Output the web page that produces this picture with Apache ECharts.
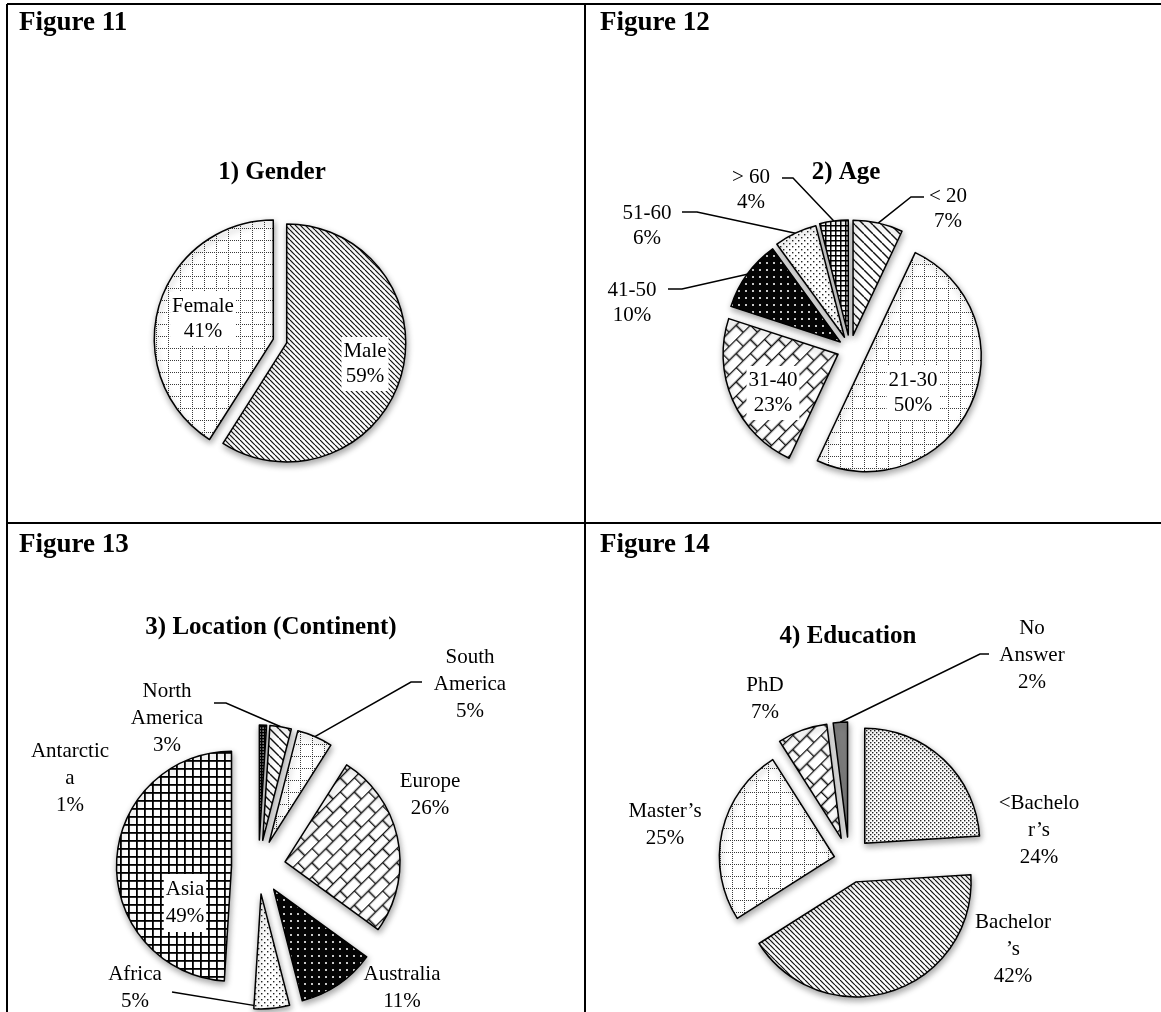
<!DOCTYPE html>
<html>
<head>
<meta charset="utf-8">
<script src="https://cdn.jsdelivr.net/npm/echarts@6/dist/echarts.min.js"></script>
<style>
  html, body { margin: 0; padding: 0; background: #fff; }
  #chart { width: 1161px; height: 1012px; }
</style>
</head>
<body>
<div id="chart"></div>
<script>
// ---- data ----
const figureLabels = ['Figure 11', 'Figure 12', 'Figure 13', 'Figure 14'];
const chartTitles = ['1) Gender', '2) Age', '3) Location (Continent)', '4) Education'];

const genderNames = ['Male', 'Female'];
const genderValues = [59, 41];

const ageNames = ['< 20', '21-30', '31-40', '41-50', '51-60', '> 60'];
const ageValues = [7, 50, 23, 10, 6, 4];

const locationNames = ['Antarctica', 'North America', 'South America', 'Europe', 'Australia', 'Africa', 'Asia'];
const locationValues = [1, 3, 5, 26, 11, 5, 49];
// names as they wrap in the printed labels
const locationLabelText = ['Antarctic\na', 'North\nAmerica', 'South\nAmerica', 'Europe', 'Australia', 'Africa', 'Asia'];

const educationNames = ['<Bachelor’s', 'Bachelor’s', 'Master’s', 'PhD', 'No Answer'];
const educationValues = [24, 42, 25, 7, 2];
const educationLabelText = ['<Bachelo\nr’s', 'Bachelor\n’s', 'Master’s', 'PhD', 'No\nAnswer'];

// ---- fill patterns (black & white print style) ----
function tile(w, h, bg, draw) {
  const c = document.createElement('canvas');
  c.width = w; c.height = h;
  const g = c.getContext('2d');
  g.fillStyle = bg; g.fillRect(0, 0, w, h);
  draw(g, w, h);
  return c;
}
function pat(canvas, rotation) {
  return { image: canvas, repeat: 'repeat', rotation: rotation || 0 };
}
function hatch(step, lw) {
  return pat(tile(step, step, '#fff', (g, w) => {
    g.strokeStyle = '#111'; g.lineWidth = lw;
    for (let k = -1; k <= 1; k++) {
      g.beginPath(); g.moveTo(k * w, 0); g.lineTo(k * w + w, w); g.stroke();
    }
  }));
}
function dottedGrid(step) {
  return pat(tile(step, step, '#fff', (g, w) => {
    g.fillStyle = '#3a3a3a';
    for (let x = 0; x < w; x += 2) g.fillRect(x, 0, 1, 1);
    for (let y = 0; y < w; y += 2) g.fillRect(0, y, 1, 1);
  }));
}
function brick(h) {
  const w = 2 * h;
  return pat(tile(w, w, '#fff', (g) => {
    g.strokeStyle = '#111'; g.lineWidth = 1.6;
    g.beginPath();
    g.moveTo(0, 0.5); g.lineTo(w, 0.5);
    g.moveTo(0, h + 0.5); g.lineTo(w, h + 0.5);
    g.moveTo(0.5, 0); g.lineTo(0.5, h + 0.5);
    g.moveTo(h + 0.5, h + 0.5); g.lineTo(h + 0.5, w);
    g.stroke();
  }), -Math.PI / 4);
}
function darkDots() {
  return pat(tile(7, 7, '#050505', (g) => {
    g.fillStyle = '#c8c8c8'; g.fillRect(3, 3, 2, 2);
  }));
}
function lightDots(step) {
  return pat(tile(step, step, '#fff', (g, w) => {
    g.fillStyle = '#222';
    g.fillRect(0, 0, 1.4, 1.4);
    g.fillRect(w / 2, w / 2, 1.4, 1.4);
  }));
}
function check(step, lw, bg) {
  return pat(tile(step, step, bg, (g, w) => {
    g.fillStyle = '#000';
    g.fillRect(0, 0, w, lw);
    g.fillRect(0, 0, lw, w);
  }));
}

const P = {
  hatchDense: hatch(5, 1.2),
  hatchWide: hatch(9, 1.4),
  dotGrid: dottedGrid(12),
  brick: brick(10),
  darkDots: darkDots(),
  dots: lightDots(6),
  fineDots: lightDots(4),
  checkSmall: check(5, 1.5, '#fff'),
  checkBold: check(8, 1.8, '#fff'),
  checkDark: check(3, 1.3, '#8a8a8a'),
  gray: '#7f7f7f'
};

// ---- layout of each panel ----
const panels = [
  {
    names: genderNames, values: genderValues, text: genderNames,
    center: [280, 341], r: 119, offsets: [7, 7], lineHeight: 25,
    fills: [P.hatchDense, P.dotGrid],
    labelAt: [[365, 364], [203, 319]],
    boxed: [true, true],
    leader: [null, null]
  },
  {
    names: ageNames, values: ageValues, text: ageNames,
    center: [850, 349], r: 115, offsets: [14, 18, 13, 12, 13, 14], lineHeight: 25,
    fills: [P.hatchWide, P.dotGrid, P.brick, P.darkDots, P.dots, P.checkSmall],
    labelAt: [[948, 209], [913, 393], [773, 393], [632, 303], [647, 226], [751, 190]],
    boxed: [false, true, true, false, false, false],
    leader: [[[911, 197], [924, 197]], null, null, [[682, 289], [668, 289]], [[697, 212], [682, 212]], [[793, 178], [782, 178]]]
  },
  {
    names: locationNames, values: locationValues, text: locationLabelText,
    center: [258.5, 867], r: 115, offsets: [27, 27, 27, 27, 27, 27, 27], lineHeight: 27,
    fills: [P.checkDark, P.hatchWide, P.dotGrid, P.brick, P.darkDots, P.dots, P.checkBold],
    labelAt: [[70, 778], [167, 718], [470, 684], [430, 795], [402, 988], [135, 988], [185, 903]],
    boxed: [false, false, false, false, false, false, true],
    leader: [null, [[226, 703], [214, 703]], [[411, 682], [422, 682]], null, null, [[172, 992], [172, 992]], null]
  },
  {
    names: educationNames, values: educationValues, text: educationLabelText,
    center: [849, 860], r: 115, offsets: [23, 23, 15, 23, 23], lineHeight: 27,
    fills: [P.fineDots, P.hatchDense, P.dotGrid, P.brick, P.gray],
    labelAt: [[1039, 830], [1013, 949], [665, 825], [765, 699], [1032, 655]],
    boxed: [false, false, false, false, false],
    leader: [null, null, null, null, [[980, 654], [989, 654]]]
  }
];

const hiddenStyle = {
  itemStyle: { color: 'rgba(0,0,0,0)', borderWidth: 0, shadowBlur: 0, shadowColor: 'rgba(0,0,0,0)' },
  label: { show: false },
  labelLine: { show: false }
};

// one pie series per slice, each pulled out along its own mid angle
function panelSeries(p) {
  const total = p.values.reduce((a, b) => a + b, 0);
  let cum = 0;
  return p.values.map((v, i) => {
    const mid = (cum + v / 2) / total * 2 * Math.PI;
    cum += v;
    const off = p.offsets[i];
    const center = [p.center[0] + off * Math.sin(mid), p.center[1] - off * Math.cos(mid)];
    return {
      type: 'pie',
      center: center,
      radius: p.r,
      startAngle: 90,
      clockwise: true,
      avoidLabelOverlap: false,
      animation: false,
      silent: true,
      emphasis: { disabled: true },
      itemStyle: {
        borderColor: '#000', borderWidth: 1.5,
        shadowBlur: 6, shadowColor: 'rgba(0,0,0,0.35)', shadowOffsetX: 1, shadowOffsetY: 3
      },
      label: {
        show: true,
        position: 'outside',
        formatter: (q) => p.text[q.dataIndex] + '\n' + q.value + '%',
        color: '#000', fontFamily: 'Liberation Serif', fontSize: 21, lineHeight: p.lineHeight
      },
      labelLine: { show: true, lineStyle: { color: '#000', width: 1.5 } },
      labelLayout: (q) => {
        const at = p.labelAt[q.dataIndex];
        const out = { x: at[0], y: at[1], align: 'center', verticalAlign: 'middle' };
        const lead = p.leader[q.dataIndex];
        if (lead && q.labelLinePoints) {
          const s = q.labelLinePoints[0];
          out.labelLinePoints = [[s[0], s[1]], lead[0], lead[1]];
        }
        return out;
      },
      data: p.values.map((w, j) => {
        if (j !== i) return Object.assign({ name: p.names[j], value: w }, hiddenStyle);
        return {
          name: p.names[j],
          value: w,
          itemStyle: { color: p.fills[j] },
          label: p.boxed[j] ? { backgroundColor: '#fff', padding: [2, 2] } : {},
          labelLine: { show: !!p.leader[j] }
        };
      })
    };
  });
}

// ---- table frame, figure captions and panel titles ----
const frame = [
  [7, 4, 1161, 4], [7, 4, 7, 1012], [585, 4, 585, 1012], [7, 523, 1161, 523]
].map(l => ({
  type: 'line', silent: true,
  shape: { x1: l[0], y1: l[1], x2: l[2], y2: l[3] },
  style: { stroke: '#000', lineWidth: 2 }
}));
const captionAt = [[19, 23], [600, 23], [19, 545], [600, 545]];
const captions = figureLabels.map((t, i) => ({
  type: 'text', silent: true, x: captionAt[i][0], y: captionAt[i][1],
  style: { text: t, fill: '#000', font: 'bold 27px "Liberation Serif"', align: 'left', verticalAlign: 'middle' }
}));
const titleAt = [[272, 173], [846, 173], [271, 628], [848, 637]];
const titles = chartTitles.map((t, i) => ({
  type: 'text', silent: true, x: titleAt[i][0], y: titleAt[i][1],
  style: { text: t, fill: '#000', font: 'bold 25px "Liberation Serif"', align: 'center', verticalAlign: 'middle' }
}));

const chart = echarts.init(document.getElementById('chart'), null, { renderer: 'canvas' });
chart.setOption({
  animation: false,
  backgroundColor: '#fff',
  graphic: frame.concat(captions, titles),
  series: [].concat(...panels.map(panelSeries))
});
</script>
</body>
</html>
